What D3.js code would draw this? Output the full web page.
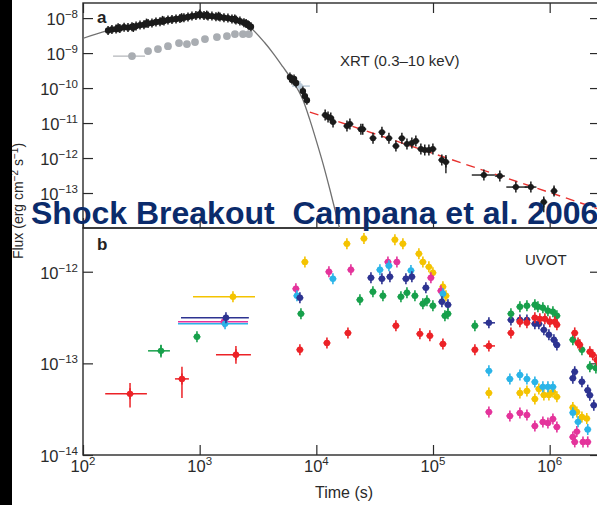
<!DOCTYPE html>
<html><head><meta charset="utf-8">
<script src="https://cdn.jsdelivr.net/npm/d3@7"></script>
<style>
html,body{margin:0;padding:0;background:#fff;}
svg{display:block;font-family:"Liberation Sans",Arial,Helvetica,sans-serif;}
</style></head><body>
<svg id="chart" width="597" height="505"></svg>
<script>
// ---------- data (time in s, flux in erg cm^-2 s^-1) ----------
const timeExponents = [2, 3, 4, 5, 6];
const fluxExponentsA = [-8, -9, -10, -11, -12, -13];
const fluxExponentsB = [-12, -13, -14];

// XRT 0.3–10 keV: early bright phase
const xrtEarly = [
  [164,4.4e-9],[177,4.7e-9],[192,4.85e-9],[207,5.0e-9],[225,5.5e-9],[243,5.35e-9],[263,5.7e-9],
  [285,5.9e-9],[308,6.3e-9],[333,6.5e-9],[361,7.0e-9],[390,7.2e-9],[422,7.7e-9],[457,7.9e-9],
  [494,8.2e-9],[535,8.8e-9],[579,9.1e-9],[627,9.4e-9],[678,9.7e-9],[733,1.03e-8],[794,1.07e-8],
  [859,1.14e-8],[929,1.18e-8],[1006,1.22e-8],[1089,1.18e-8],[1178,1.14e-8],[1274,1.14e-8],
  [1379,1.10e-8],[1492,1.07e-8],[1615,1.03e-8],[1747,1.0e-8],[1891,9.4e-9],[2046,8.8e-9],
  [2213,8.2e-9],[2396,7.4e-9],[2593,6.5e-9],[2752,5.7e-9],
  [200,5.3e-9],[270,5.4e-9],[350,7.2e-9],[480,8.6e-9],[700,1.03e-8],[1000,1.3e-8],
  [1150,1.22e-8],[1450,1.13e-8],[2000,9.4e-9],[2500,7.0e-9],[2650,6.1e-9]
];
// XRT: steep decline
const xrtMid = [[5940,2.06e-10],[6190,1.69e-10],[6440,1.81e-10],[6700,1.39e-10],[7670,8.2e-11],[7980,5.9e-11],[8300,4.5e-11]];
// XRT: power-law tail
const xrtLate = [
  [11900,1.69e-11],[12600,1.48e-11],[13300,1.39e-11],[13900,1.07e-11],[18300,8.2e-12],[19400,9.4e-12],
  [24100,6.7e-12],[25000,6.7e-12],[30600,3.7e-12],[36500,5.5e-12],[41900,3.7e-12],[48100,2.2e-12],
  [54100,3.7e-12],[59800,2.5e-12],[65900,2.7e-12],[71300,3.06e-12],[78700,1.81e-12],[85000,1.69e-12],
  [92200,1.69e-12],[99800,1.81e-12],[119000,8.8e-13],[129000,7.7e-13],[273000,3.27e-13],
  [374000,3.06e-13],[513000,1.48e-13],[690000,1.48e-13],[1090000,1.14e-13],[890000,5.5e-14]
];
const xrtLateErr = [
  {t:129000,f:7.7e-13,fLo:3.7e-13,fHi:1.22e-12},
  {t:273000,f:3.27e-13,tLo:215000,tHi:339000},
  {t:374000,f:3.06e-13,tLo:339000,tHi:413000},
  {t:513000,f:1.48e-13,tLo:425000,tHi:638000},
  {t:690000,f:1.48e-13,tLo:610000,tHi:770000},
  {t:1090000,f:1.14e-13,fLo:8.7e-14,fHi:1.48e-13},
  {t:890000,f:5.5e-14,fLo:2.8e-14,fHi:7.2e-14}
];
const xrtStar = [{t:7230,f:1.14e-10,tLo:6190,tHi:8800}];
// model curve and power-law fit
const xrtModel = [
  [94,2.45e-9],[160,4.3e-9],[300,6.3e-9],[600,9.4e-9],[1000,1.2e-8],[1500,1.1e-8],[2000,9.0e-9],
  [2700,5.5e-9],[3600,2.0e-9],[4250,1.0e-9],[5180,4.0e-10],[6190,1.7e-10],[7670,4.6e-11],
  [8800,1.23e-11],[10000,3.1e-12],[11500,6.3e-13],[13100,1.22e-13],[15800,1.0e-14]
];
const xrtPowerLaw = [[8800,2.06e-11],[2.7e6,3.4e-14]];
// grey points in panel a
const greyA = [[263,8.2e-10],[361,1.14e-9],[439,1.3e-9],[535,1.58e-9],[665,1.93e-9],[778,1.81e-9],
  [912,2.06e-9],[1110,2.51e-9],[1406,2.86e-9],[1713,3.06e-9],[2006,3.49e-9],[2349,3.49e-9],[2644,3.49e-9]];
const greyAErr = [{t:263,f:8.2e-10,tLo:181,tHi:340}];

// UVOT filters
const uvotYellow = [
  [1929,5.33e-13],[7980,1.28e-12],[18280,2.02e-12],[25590,2.30e-12],[47150,2.24e-12],[55200,2.02e-12],
  [75700,1.57e-12],[81900,1.28e-12],[92200,1.13e-12],[99800,9.75e-13],[121600,6.86e-13],[129100,5.47e-13],
  [301300,4.76e-14],[555800,4.76e-14],[638300,5.00e-14],[746700,4.09e-14],[808000,5.26e-14],
  [892000,4.53e-14],[985000,4.53e-14],[1066000,4.88e-14],[1153000,4.31e-14],
  [1580000,3.3e-14],[1710000,2.95e-14],[1890000,2.6e-14],[2080000,2.5e-14]
];
const uvotMagenta = [
  [1615,2.84e-13],[6680,6.52e-13],[12820,1.0e-12],[19780,1.05e-12],[41090,1.28e-12],[49040,1.28e-12],
  [95900,8.6e-13],[116900,6.2e-13],[301300,2.95e-14],[456000,2.67e-14],[555800,2.88e-14],
  [638300,2.74e-14],[746700,2.07e-14],[874500,2.29e-14],[966000,2.24e-14],[1066000,2.47e-14],
  [1153000,2.02e-14],[1580000,1.57e-14],[1710000,1.8e-14],[1640000,1.39e-14],[1930000,1.39e-14],[2120000,1.39e-14]
];
const uvotCyan = [
  [1650,2.7e-13],[6820,5.47e-13],[13870,8.38e-13],[35080,1.05e-12],[41900,1.16e-12],[64700,1.03e-12],
  [121600,5.75e-13],[301300,8.28e-14],[456000,6.77e-14],[555800,7.48e-14],[638300,6.77e-14],
  [746700,6.28e-14],[874500,5.54e-14],[966000,5.54e-14],[1066000,5.54e-14],
  [1580000,2.9e-14],[1750000,2.3e-14],[2120000,1.9e-14]
];
const uvotNavy = [
  [1680,3.14e-13],[7230,5.2e-13],[29380,8.6e-13],[36480,8.38e-13],[42730,8.81e-13],[58600,8.38e-13],
  [65900,8.81e-13],[86900,6.68e-13],[119200,4.7e-13],[134300,4.36e-13],[301300,2.77e-13],
  [465400,2.98e-13],[555800,2.98e-13],[638300,2.98e-13],[746700,2.7e-13],[808000,2.7e-13],
  [892000,2.32e-13],[985000,2.05e-13],[1087000,1.81e-13],[1153000,1.59e-13],
  [1640000,8.1e-14],[1580000,6.9e-14],[1890000,6.3e-14],[2120000,5.1e-14],[2210000,4.5e-14],[2390000,3.5e-14]
];
const uvotGreen = [
  [466,1.37e-13],[948,1.95e-13],[7380,3.48e-13],[23640,4.94e-13],[30550,6.04e-13],[37220,5.47e-13],
  [53100,5.33e-13],[59800,5.89e-13],[70000,5.47e-13],[81900,4.47e-13],[88700,4.82e-13],[99800,4.25e-13],
  [126500,3.31e-13],[134300,3.48e-13],[228600,2.57e-13],[465400,3.48e-13],[555800,4.14e-13],
  [638300,4.25e-13],[746700,4.36e-13],[793000,4.14e-13],[874500,4.04e-13],[966000,3.75e-13],
  [1066000,3.66e-13],[1153000,3.31e-13],[1580000,1.81e-13],[1890000,1.41e-13],[2210000,9.2e-14],[2490000,8.9e-14]
];
const uvotRed = [
  [253,4.65e-14],[705,6.77e-14],[2046,1.24e-13],[7230,1.41e-13],[12330,1.67e-13],[18660,2.15e-13],
  [48090,2.57e-13],[77200,2.10e-13],[94000,2.0e-13],[121600,1.63e-13],[228600,1.41e-13],[301300,1.55e-13],
  [465400,2.15e-13],[555800,2.84e-13],[638300,2.77e-13],[746700,3.14e-13],[824000,3.06e-13],
  [910000,3.06e-13],[1004000,2.84e-13],[1109000,2.84e-13],[1153000,2.64e-13],
  [1640000,2.15e-13],[1750000,1.67e-13],[1810000,1.6e-13],[2210000,1.34e-13],[2340000,1.24e-13],[2540000,1.09e-13]
];
const uvotErr = [
  {c:"cyan",t:1650,f:2.7e-13,tLo:652,tHi:2596},
  {c:"magenta",t:1615,f:2.84e-13,tLo:652,tHi:2596},
  {c:"navy",t:1680,f:3.14e-13,tLo:692,tHi:2640},
  {c:"yellow",t:1929,f:5.33e-13,tLo:877,tHi:2980},
  {c:"green",t:466,f:1.37e-13,tLo:361,tHi:556,fLo:1.16e-13,fHi:1.6e-13},
  {c:"red",t:253,f:4.65e-14,tLo:155,tHi:353,fLo:3.3e-14,fHi:6.12e-14},
  {c:"red",t:705,f:6.77e-14,tLo:614,tHi:809,fLo:4.2e-14,fHi:9.16e-14},
  {c:"red",t:2046,f:1.24e-13,tLo:1380,tHi:2750,fLo:9.9e-14,fHi:1.55e-13},
  {c:"navy",t:301300,f:2.77e-13,tLo:270000,tHi:340000},
  {c:"red",t:301300,f:1.55e-13,tLo:270000,tHi:340000}
];

// ---------- styles ----------
const palette = {yellow:"#f4c300", magenta:"#e4339b", cyan:"#2ab4e8", navy:"#2d3391", green:"#17a04b", red:"#ec2227"};
const ink = "#2a2a2a";

// ---------- scales ----------
const svg = d3.select("#chart");
const x  = d3.scaleLog().domain([100, 2.7e6]).range([83, 600]);
const yA = d3.scaleLog().domain([1e-14, 2.7e-8]).range([228, 3]);
const yB = d3.scaleLog().domain([1e-14, 3e-12]).range([455, 228]);

const defs = svg.append("defs");
defs.append("clipPath").attr("id","clipA").append("rect").attr("x",83).attr("y",3).attr("width",517).attr("height",225);
defs.append("clipPath").attr("id","clipB").append("rect").attr("x",83).attr("y",228).attr("width",517).attr("height",227);

// ---------- ticks ----------
function minorsOf(scale) {
  const [lo, hi] = scale.domain();
  const out = [];
  for (let e = Math.floor(Math.log10(lo)); e <= Math.ceil(Math.log10(hi)); e++)
    for (let k = 2; k <= 9; k++) { const v = k * Math.pow(10, e); if (v > lo && v < hi) out.push(v); }
  return out;
}
const xMajors = timeExponents.map(e => Math.pow(10, e));
const xMinors = minorsOf(x);

function drawAxis(axisFn, scale, transform, majors, minors) {
  const g = svg.append("g").attr("transform", transform).attr("color", ink);
  g.call(axisFn(scale).tickValues(minors).tickSize(-5).tickSizeOuter(0).tickFormat(""));
  g.call(axisFn(scale).tickValues(majors).tickSize(-10).tickSizeOuter(0).tickFormat(""));
  g.selectAll(".domain").remove();
  g.selectAll("line").attr("stroke-width", 1.2);
}
// panel a
const yAMajors = fluxExponentsA.map(e => Math.pow(10, e));
drawAxis(d3.axisTop, x, "translate(0,3)", xMajors, xMinors);
drawAxis(d3.axisBottom, x, "translate(0,228)", xMajors, xMinors);
drawAxis(d3.axisLeft, yA, "translate(83,0)", yAMajors, minorsOf(yA));
drawAxis(d3.axisRight, yA, "translate(600,0)", yAMajors, minorsOf(yA));
// panel b
const yBMajors = fluxExponentsB.map(e => Math.pow(10, e));
drawAxis(d3.axisBottom, x, "translate(0,455)", xMajors, xMinors);
drawAxis(d3.axisLeft, yB, "translate(83,0)", yBMajors, minorsOf(yB));
drawAxis(d3.axisRight, yB, "translate(600,0)", yBMajors, minorsOf(yB));

// frames
[[3,228],[228,455]].forEach(([t,b]) => {
  svg.append("rect").attr("x",83).attr("y",t).attr("width",517).attr("height",b-t)
    .attr("fill","none").attr("stroke",ink).attr("stroke-width",1.4);
});

// ---------- tick labels ----------
function powText(sel, exp) {
  sel.text("10");
  sel.append("tspan").attr("dy",-7).attr("font-size",11.5)
    .text(exp < 0 ? "\u2212" + (-exp) : String(exp));
}
const labels = svg.append("g").attr("fill", ink).attr("font-size", 16.5);
fluxExponentsA.forEach(e => {
  labels.append("text").attr("x",78).attr("y",yA(Math.pow(10,e))+7).attr("text-anchor","end").call(powText, e);
});
fluxExponentsB.forEach(e => {
  labels.append("text").attr("x",78).attr("y",yB(Math.pow(10,e))+7).attr("text-anchor","end").call(powText, e);
});
timeExponents.forEach(e => {
  labels.append("text").attr("x",x(Math.pow(10,e))).attr("y",472).attr("text-anchor","middle").call(powText, e);
});
svg.append("text").attr("x",344).attr("y",498).attr("text-anchor","middle")
  .attr("font-size",16).attr("fill",ink).text("Time (s)");

const yl = svg.append("text").attr("transform","translate(23,201) rotate(-90)")
  .attr("text-anchor","middle").attr("font-size",14).attr("fill",ink);
yl.append("tspan").text("Flux (erg cm");
yl.append("tspan").attr("dy",-5).attr("font-size",10).text("\u22122");
yl.append("tspan").attr("dy",5).text(" s");
yl.append("tspan").attr("dy",-5).attr("font-size",10).text("\u22121");
yl.append("tspan").attr("dy",5).text(")");

svg.append("text").attr("x",97).attr("y",23).attr("font-size",17).attr("font-weight","bold").attr("fill","#222").text("a");
svg.append("text").attr("x",97).attr("y",250).attr("font-size",17).attr("font-weight","bold").attr("fill","#222").text("b");
svg.append("text").attr("x",340).attr("y",66).attr("font-size",15).attr("fill",ink).text("XRT (0.3\u201310 keV)");
svg.append("text").attr("x",525).attr("y",265).attr("font-size",15).attr("fill",ink).text("UVOT");

// ---------- marks ----------
function drawPoints(g, data, y, color, r, vLen, hLen, sw) {
  const p = g.append("g").selectAll("g").data(data).join("g");
  p.append("line").attr("x1",d=>x(d[0])).attr("x2",d=>x(d[0]))
    .attr("y1",d=>y(d[1])-vLen).attr("y2",d=>y(d[1])+vLen).attr("stroke",color).attr("stroke-width",sw);
  p.append("line").attr("x1",d=>x(d[0])-hLen).attr("x2",d=>x(d[0])+hLen)
    .attr("y1",d=>y(d[1])).attr("y2",d=>y(d[1])).attr("stroke",color).attr("stroke-width",sw);
  p.append("circle").attr("cx",d=>x(d[0])).attr("cy",d=>y(d[1])).attr("r",r).attr("fill",color);
}
function drawErr(g, list, y, colorOf, sw) {
  list.forEach(d => {
    const c = colorOf(d);
    if (d.tLo) g.append("line").attr("x1",x(d.tLo)).attr("x2",x(d.tHi)).attr("y1",y(d.f)).attr("y2",y(d.f))
      .attr("stroke",c).attr("stroke-width",sw);
    if (d.fLo) g.append("line").attr("x1",x(d.t)).attr("x2",x(d.t)).attr("y1",y(d.fLo)).attr("y2",y(d.fHi))
      .attr("stroke",c).attr("stroke-width",sw);
  });
}

// panel a
const gA = svg.append("g").attr("clip-path","url(#clipA)");
gA.append("path").datum(xrtModel)
  .attr("d", d3.line().x(d=>x(d[0])).y(d=>yA(d[1])).curve(d3.curveMonotoneX))
  .attr("fill","none").attr("stroke","#707070").attr("stroke-width",1.3);
gA.append("path").datum(xrtPowerLaw)
  .attr("d", d3.line().x(d=>x(d[0])).y(d=>yA(d[1])))
  .attr("fill","none").attr("stroke","#e8322f").attr("stroke-width",1.4).attr("stroke-dasharray","9,6");
drawErr(gA, greyAErr, yA, () => "#b3b6ba", 1.4);
drawPoints(gA, greyA, yA, "#a9adb2", 3.9, 0, 0, 0);
drawPoints(gA, xrtEarly, yA, "#1b1b1b", 3.2, 4.5, 2, 1.5);
drawErr(gA, xrtStar, yA, () => "#b7c7d6", 1.4);
drawPoints(gA, xrtStar.map(d=>[d.t,d.f]), yA, "#b7c7d6", 3, 5, 3, 1.5);
drawPoints(gA, xrtMid, yA, "#1b1b1b", 3.2, 4.5, 2.5, 1.4);
drawErr(gA, xrtLateErr, yA, () => "#1b1b1b", 1.4);
drawPoints(gA, xrtLate, yA, "#1b1b1b", 3, 5.5, 3.5, 1.5);

// panel b
const gB = svg.append("g").attr("clip-path","url(#clipB)");
drawErr(gB, uvotErr, yB, d => palette[d.c], 1.5);
const series = [["yellow",uvotYellow],["magenta",uvotMagenta],["cyan",uvotCyan],["navy",uvotNavy],["green",uvotGreen],["red",uvotRed]];
series.forEach(([c, data]) => drawPoints(gB, data, yB, palette[c], 3.2, 5.5, 3.5, 1.6));

// ---------- side strip and headline ----------
svg.append("rect").attr("x",0).attr("y",0).attr("width",12).attr("height",505).attr("fill","#000");
svg.append("text").attr("x",31).attr("y",224).attr("font-size",32).attr("font-weight","bold")
  .attr("fill","#0b2b6b").attr("xml:space","preserve").style("white-space","pre")
  .text("Shock Breakout  Campana et al. 2006");
</script>
</body></html>
